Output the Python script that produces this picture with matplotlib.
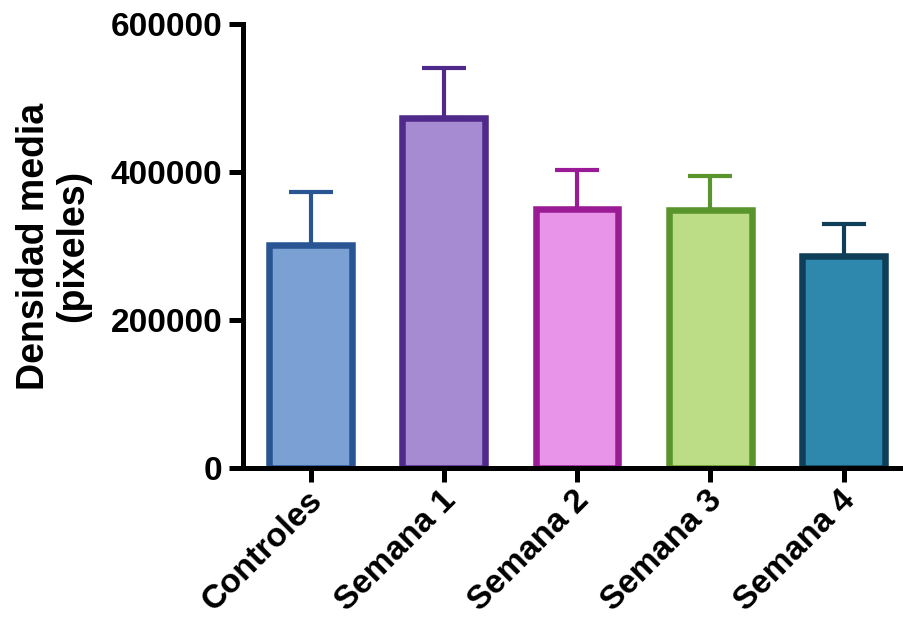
import matplotlib
matplotlib.use('Agg')
import matplotlib.pyplot as plt
import matplotlib.transforms as mtransforms
import numpy as np

plt.rcParams['font.family'] = ['Liberation Sans', 'DejaVu Sans']
plt.rcParams['font.weight'] = 'bold'

# datos
grupos = ['Controles', 'Semana 1', 'Semana 2', 'Semana 3', 'Semana 4']
medias = [301500, 473000, 350000, 348500, 286500]
errores = [71500, 67500, 52700, 46000, 43200]
relleno = ['#7BA0D4', '#A68AD2', '#E894E8', '#BCDD86', '#2E88AE']
bordes = ['#2A5595', '#4F2A8A', '#9A1B95', '#5A942C', '#0F3F58']

fig = plt.figure(figsize=(9.04, 6.2), dpi=100)
ax = fig.add_axes([243/904, (620-468)/620, 1 - 243/904, (468-24)/620])

x = np.arange(len(grupos))
for i in range(len(grupos)):
    ax.errorbar(x[i], medias[i], yerr=[[0], [errores[i]]], fmt='none',
                ecolor=bordes[i], elinewidth=3, capsize=15.5, capthick=3, zorder=1)
    ax.bar(x[i], medias[i], width=0.62, color=relleno[i], edgecolor=bordes[i],
           linewidth=4.7, zorder=2)

ax.set_xlim(-0.507, 4.454)
ax.set_ylim(0, 600000)
ax.set_yticks([0, 200000, 400000, 600000])
ax.set_yticklabels(['0', '200000', '400000', '600000'])
ax.set_xticks(x)
ax.set_xticklabels(grupos, rotation=45, ha='right', va='center', rotation_mode='anchor')

for s in ['top', 'right']:
    ax.spines[s].set_visible(False)
for s in ['left', 'bottom']:
    ax.spines[s].set_linewidth(3.6)
ax.tick_params(axis='both', length=10, width=3.6, labelsize=24, pad=5)
ax.tick_params(axis='x', pad=12)
desplaza = mtransforms.ScaledTranslation(7/100, 3/100, fig.dpi_scale_trans)
for lbl in ax.get_xticklabels():
    lbl.set_transform(lbl.get_transform() + desplaza)
for lbl in ax.get_xticklabels() + ax.get_yticklabels():
    lbl.set_fontweight('bold')

ax.set_ylabel('Densidad media\n(pixeles)', fontsize=27, fontweight='bold', labelpad=14,
              linespacing=1.12)

fig.savefig('out.png', dpi=100)
